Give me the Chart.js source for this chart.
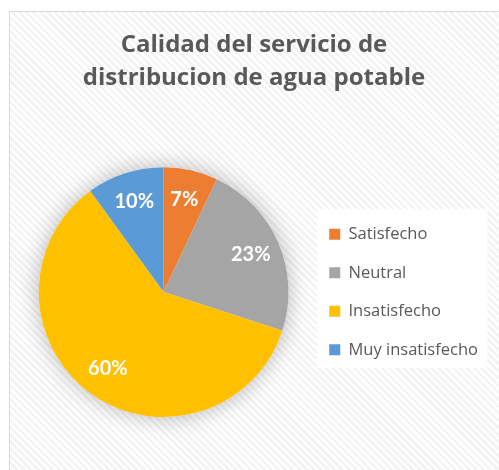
<!DOCTYPE html>
<html>
<head>
<meta charset="utf-8">
<script src="https://cdn.jsdelivr.net/npm/chart.js@4.4.0/dist/chart.umd.min.js"></script>
<style>
  html, body { margin: 0; padding: 0; background: #fff; overflow: hidden; width: 499px; height: 470px; }
  #frame {
    position: absolute; left: 9px; top: 11px; width: 497px; height: 470px;
    border: 1px solid #d9d9d9;
    background: repeating-linear-gradient(45deg, #ffffff 0px, #ffffff 2.5px, #f3f3f3 2.5px, #f3f3f3 5px);
  }
  #chart { display: block; }
</style>
</head>
<body>
<div id="frame"><canvas id="chart" width="497" height="460"></canvas></div>
<script>
var titleLines = ["Calidad del servicio de", "distribucion de agua potable"];
var categories = ["Satisfecho", "Neutral", "Insatisfecho", "Muy insatisfecho"];
var shares = [7, 23, 60, 10];
var sliceColors = ["#ED7D31", "#A5A5A5", "#FFC000", "#5B9BD5"];

(function () {
  'use strict';

  var textFont = "'Open Sans', sans-serif";
  var labelFont = "Lato, 'Open Sans', sans-serif";

  // soft shadow under the pie, drawn before the slices
  var pieShadow = {
    id: "pieShadow",
    beforeDatasetsDraw: function (chart) {
      var arc = chart.getDatasetMeta(0).data[0];
      if (!arc) return;
      var ctx = chart.ctx;
      ctx.save();
      ctx.shadowColor = "rgba(0,0,0,0.28)";
      ctx.shadowBlur = 22;
      ctx.fillStyle = "#ffffff";
      ctx.beginPath();
      ctx.arc(arc.x, arc.y, arc.outerRadius, 0, Math.PI * 2);
      ctx.fill();
      ctx.restore();
    }
  };

  // white box behind the legend
  var legendBack = {
    id: "legendBack",
    beforeDraw: function (chart) {
      var boxes = chart.legend && chart.legend.legendHitBoxes;
      if (!boxes || !boxes.length) return;
      var first = boxes[0], last = boxes[boxes.length - 1];
      var top = first.top + first.height / 2 - 25;
      var bottom = last.top + last.height / 2 + 18;
      var ctx = chart.ctx;
      ctx.save();
      ctx.fillStyle = "#ffffff";
      ctx.fillRect(first.left - 12, top, 170, bottom - top);
      ctx.restore();
    }
  };

  // percentage labels inside the slices
  var sliceLabels = {
    id: "sliceLabels",
    afterDatasetsDraw: function (chart) {
      var ctx = chart.ctx;
      var meta = chart.getDatasetMeta(0);
      ctx.save();
      ctx.fillStyle = "#ffffff";
      ctx.font = "bold 20px " + labelFont;
      ctx.textAlign = "center";
      ctx.textBaseline = "middle";
      meta.data.forEach(function (arc, i) {
        var mid = (arc.startAngle + arc.endAngle) / 2;
        var r = arc.outerRadius * 0.76;
        ctx.fillText(shares[i] + "%", arc.x + Math.cos(mid) * r, arc.y + Math.sin(mid) * r);
      });
      ctx.restore();
    }
  };

  new Chart(document.getElementById("chart"), {
    type: "pie",
    data: {
      labels: categories,
      datasets: [{ data: shares, backgroundColor: sliceColors, borderWidth: 0, hoverOffset: 0 }]
    },
    options: {
      responsive: false,
      animation: false,
      layout: { padding: { left: 10, right: 19, top: 0, bottom: 55 } },
      plugins: {
        title: {
          display: true,
          text: titleLines,
          color: "#595959",
          font: { family: textFont, size: 24, weight: "bold", lineHeight: 1.38 },
          padding: { top: 16.5, bottom: 72.5 }
        },
        legend: {
          position: "right",
          align: "center",
          fullSize: false,
          labels: {
            color: "#595959",
            font: { family: textFont, size: 16.5 },
            boxWidth: 11,
            boxHeight: 11,
            padding: 22
          }
        },
        tooltip: { enabled: false }
      }
    },
    plugins: [pieShadow, legendBack, sliceLabels]
  });
})();
</script>
</body>
</html>
